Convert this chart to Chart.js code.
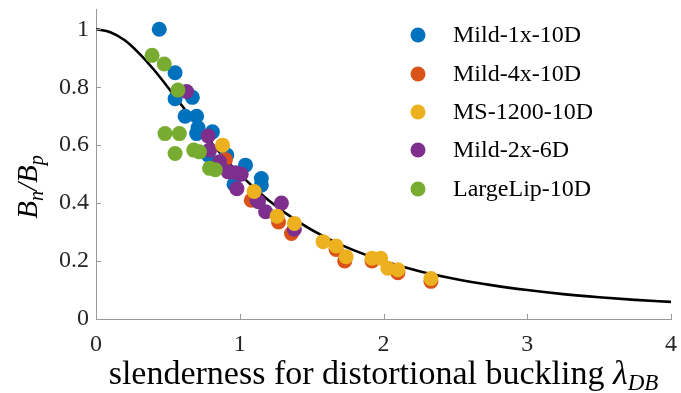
<!DOCTYPE html>
<html>
<head>
<meta charset="utf-8">
<script src="https://cdn.jsdelivr.net/npm/chart.js@4"></script>
<style>
html,body{margin:0;padding:0;background:#fff;}
#wrap{width:681px;height:393px;}
</style>
</head>
<body>
<div id="wrap"><canvas id="c" width="681" height="393"></canvas></div>
<script>
// ---- data ----
const seriesNames = ["Mild-1x-10D","Mild-4x-10D","MS-1200-10D","Mild-2x-6D","LargeLip-10D"];
const seriesColors = ["#0072BD","#D95319","#EDB120","#7E2F8E","#77AC30"];

const mild1xX = [0.44,0.55,0.55,0.62,0.67,0.70,0.71,0.70,0.81,0.78,0.91,0.96,1.04,1.15,1.15];
const mild1xY = [1.00,0.85,0.76,0.70,0.765,0.70,0.66,0.64,0.646,0.566,0.566,0.465,0.531,0.485,0.462];

const mild4xX = [0.90,1.08,1.27,1.36,1.67,1.73,1.92,2.10,2.33];
const mild4xY = [0.55,0.41,0.335,0.295,0.24,0.20,0.20,0.16,0.13];

const ms1200X = [0.88,1.10,1.26,1.38,1.58,1.67,1.74,1.92,1.98,2.03,2.10,2.33];
const ms1200Y = [0.60,0.44,0.355,0.33,0.267,0.252,0.215,0.21,0.21,0.175,0.17,0.14];

const mild2xX = [0.63,0.78,0.79,0.86,0.92,0.97,1.01,0.98,1.12,1.13,1.18,1.29,1.38];
const mild2xY = [0.785,0.632,0.583,0.543,0.508,0.505,0.50,0.45,0.41,0.405,0.37,0.40,0.31];

const largeLipX = [0.39,0.475,0.57,0.48,0.58,0.55,0.68,0.72,0.79,0.83];
const largeLipY = [0.91,0.88,0.79,0.64,0.64,0.571,0.583,0.577,0.52,0.515];

const curveX = [0,0.1,0.2,0.3,0.4,0.5,0.6,0.7,0.8,0.9,1.0,1.2,1.4,1.6,1.8,2.0,2.25,2.5,2.75,3.0,3.25,3.5,3.75,4.0];
const curveY = [1.0,0.99,0.962,0.917,0.862,0.80,0.735,0.671,0.61,0.552,0.5,0.41,0.338,0.281,0.236,0.2,0.165,0.138,0.117,0.1,0.086,0.075,0.066,0.059];

const xTicks = [0,1,2,3,4];
const yTicks = [0,0.2,0.4,0.6,0.8,1];
const xMin = 0, xMax = 4, yMin = 0, yMax = 1.07;

// ---- build ----
const pts = (xs, ys) => xs.map((x, i) => ({x: x, y: ys[i]}));
const seriesX = [mild1xX, mild4xX, ms1200X, mild2xX, largeLipX];
const seriesY = [mild1xY, mild4xY, ms1200Y, mild2xY, largeLipY];
const drawOrder = [5, 4, 2, 3, 1]; // higher = drawn further behind

const datasets = seriesNames.map((n, i) => ({
  type: 'scatter',
  label: n,
  data: pts(seriesX[i], seriesY[i]),
  backgroundColor: seriesColors[i],
  borderWidth: 0,
  pointRadius: 7.5,
  pointHoverRadius: 7.5,
  order: drawOrder[i]
}));
datasets.push({
  type: 'line',
  label: 'curve',
  data: pts(curveX, curveY),
  borderColor: '#000',
  borderWidth: 2.6,
  pointRadius: 0,
  fill: false,
  cubicInterpolationMode: 'monotone',
  order: 10
});

const FONT = "Liberation Serif";
const noPad = s => { s.paddingTop = 0; s.paddingBottom = 0; s.paddingLeft = 0; s.paddingRight = 0; };

const deco = {
  id: 'deco',
  afterDraw(chart) {
    const ctx = chart.ctx;
    const xs = chart.scales.x, ys = chart.scales.y;
    const a = chart.chartArea;
    ctx.save();
    // inward ticks
    ctx.strokeStyle = '#9a9a9a';
    ctx.lineWidth = 1;
    xTicks.forEach(v => {
      const p = Math.round(xs.getPixelForValue(v)) + 0.5;
      ctx.beginPath(); ctx.moveTo(p, a.bottom); ctx.lineTo(p, a.bottom - 5); ctx.stroke();
    });
    yTicks.forEach(v => {
      const p = Math.round(ys.getPixelForValue(v)) + 0.5;
      ctx.beginPath(); ctx.moveTo(a.left, p); ctx.lineTo(a.left + 5, p); ctx.stroke();
    });
    // legend
    ctx.textBaseline = 'middle';
    ctx.textAlign = 'left';
    ctx.font = "24px '" + FONT + "'";
    const rows = [35, 74, 112, 150, 189];
    seriesNames.forEach((n, i) => {
      ctx.fillStyle = seriesColors[i];
      ctx.beginPath(); ctx.arc(418, rows[i], 7.5, 0, Math.PI * 2); ctx.fill();
      ctx.fillStyle = '#000';
      ctx.fillText(n, 453, rows[i] + 1);
    });
    // x title
    ctx.fillStyle = '#000';
    ctx.textBaseline = 'alphabetic';
    const main = "slenderness for distortional buckling ";
    const big = 34, small = 23;
    ctx.font = big + "px '" + FONT + "'";
    const w1 = ctx.measureText(main).width;
    ctx.font = "italic " + big + "px '" + FONT + "'";
    const w2 = ctx.measureText("\u03BB").width;
    ctx.font = "italic " + small + "px '" + FONT + "'";
    const w3 = ctx.measureText("DB").width;
    let x0 = (a.left + a.right) / 2 - (w1 + w2 + w3) / 2;
    const by = 384;
    ctx.font = big + "px '" + FONT + "'"; ctx.fillText(main, x0, by);
    ctx.font = "italic " + big + "px '" + FONT + "'"; ctx.fillText("\u03BB", x0 + w1, by);
    ctx.font = "italic " + small + "px '" + FONT + "'"; ctx.fillText("DB", x0 + w1 + w2, by + 6);
    // y title (rotated)
    ctx.translate(37, 187);
    ctx.rotate(-Math.PI / 2);
    const parts = [["B", 29, 0], ["n", 20, 6], ["/", 29, 0], ["B", 29, 0], ["p", 20, 6]];
    let tw = 0;
    parts.forEach(p => { ctx.font = "italic " + p[1] + "px '" + FONT + "'"; tw += ctx.measureText(p[0]).width; });
    let cx = -tw / 2;
    parts.forEach(p => {
      ctx.font = "italic " + p[1] + "px '" + FONT + "'";
      ctx.fillText(p[0], cx, p[2]);
      cx += ctx.measureText(p[0]).width;
    });
    ctx.restore();
  }
};

new Chart(document.getElementById('c'), {
  data: { datasets: datasets },
  options: {
    responsive: false,
    animation: false,
    layout: { padding: { top: 9, right: 10, left: 0, bottom: 0 } },
    plugins: { legend: { display: false }, tooltip: { enabled: false } },
    scales: {
      x: {
        type: 'linear', min: xMin, max: xMax,
        afterFit: s => { s.height = 74; noPad(s); },
        afterBuildTicks: s => { s.ticks = xTicks.map(v => ({value: v})); },
        grid: { display: false, drawTicks: false },
        border: { display: true, color: '#9a9a9a', width: 1 },
        ticks: { color: '#262626', font: { family: "'" + FONT + "'", size: 24 }, padding: 11, maxRotation: 0,
                 callback: v => String(v) }
      },
      y: {
        type: 'linear', min: yMin, max: yMax,
        afterFit: s => { s.width = 96; noPad(s); },
        afterBuildTicks: s => { s.ticks = yTicks.map(v => ({value: v})); },
        grid: { display: false, drawTicks: false },
        border: { display: true, color: '#9a9a9a', width: 1 },
        ticks: { color: '#262626', font: { family: "'" + FONT + "'", size: 24 }, padding: 7,
                 callback: v => String(v) }
      }
    }
  },
  plugins: [deco]
});
</script>
</body>
</html>
